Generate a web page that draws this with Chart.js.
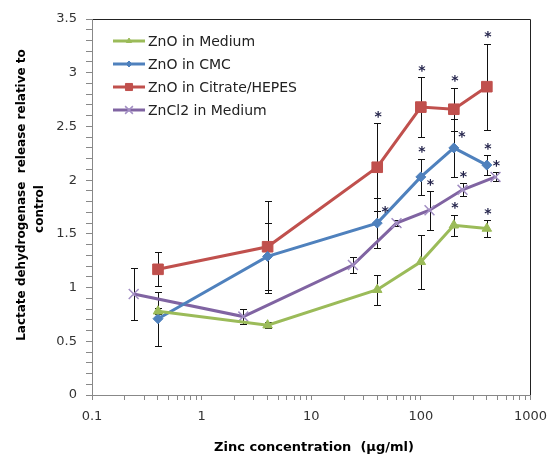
<!DOCTYPE html>
<html>
<head>
<meta charset="utf-8">
<script src="https://cdn.jsdelivr.net/npm/chart.js@4/dist/chart.umd.min.js"></script>
<style>
  html, body { margin: 0; padding: 0; background: #fff; }
  #ldhChart { display: block; }
</style>
</head>
<body>
<canvas id="ldhChart" width="556" height="457"></canvas>
<script>
// LDH release vs zinc concentration
const concZnO = [0.4, 4, 40, 100, 200, 400];            // µg/ml
const concZnCl2 = [0.24, 2.4, 24, 60, 120, 240, 480];   // µg/ml

const znoMedium = [0.78, 0.65, 0.98, 1.24, 1.58, 1.55];
const znoMediumErr = [0.03, 0.03, 0.14, 0.25, 0.10, 0.075];
const znoMediumSig = [0, 0, 0, 0, 1, 1];

const znoCmc = [0.71, 1.29, 1.60, 2.03, 2.30, 2.14];
const znoCmcErr = [0.25, 0.31, 0.235, 0.17, 0.27, 0.09];
const znoCmcSig = [0, 0, 2, 1, 2, 1];   // 1 = star over bar, 2 = star next to point

const znoCitrate = [1.17, 1.38, 2.12, 2.68, 2.66, 2.87];
const znoCitrateErr = [0.16, 0.43, 0.41, 0.28, 0.20, 0.40];
const znoCitrateSig = [0, 0, 1, 1, 1, 1];

const zncl2Medium = [0.94, 0.73, 1.21, 1.60, 1.72, 1.91, 2.03];
const zncl2MediumErr = [0.245, 0.07, 0.075, 0.03, 0.18, 0.062, 0.042];
const zncl2MediumSig = [0, 0, 0, 0, 1, 1, 1];

const xTickLabels = ['0.1', '1', '10', '100', '1000'];
const yTickLabels = ['0', '0.5', '1', '1.5', '2', '2.5', '3', '3.5'];

const FONT = "'DejaVu Sans', sans-serif";

function pts(xs, ys) {
    return xs.map((x, i) => ({ x: x, y: ys[i] }));
}

// black error bars + significance stars
const errorBars = {
    id: 'errorBars',
    beforeDatasetsDraw(chart) {
        const ctx = chart.ctx, sx = chart.scales.x, sy = chart.scales.y;
        ctx.save();
        ctx.strokeStyle = '#111';
        ctx.lineWidth = 1;
        chart.data.datasets.forEach(ds => {
            ds.data.forEach((p, i) => {
                const e = ds.errors[i];
                const px = Math.round(sx.getPixelForValue(p.x)) + 0.5;
                const top = Math.round(sy.getPixelForValue(p.y + e)) + 0.5;
                const bot = Math.round(sy.getPixelForValue(p.y - e)) + 0.5;
                ctx.beginPath();
                ctx.moveTo(px, top); ctx.lineTo(px, bot);
                ctx.moveTo(px - 3.5, top); ctx.lineTo(px + 3.5, top);
                ctx.moveTo(px - 3.5, bot); ctx.lineTo(px + 3.5, bot);
                ctx.stroke();
            });
        });
        ctx.restore();
    },
    afterDatasetsDraw(chart) {
        const ctx = chart.ctx, sx = chart.scales.x, sy = chart.scales.y;
        ctx.save();
        ctx.fillStyle = '#22224a';
        ctx.font = 'bold 14px ' + FONT;
        ctx.textAlign = 'center';
        ctx.textBaseline = 'middle';
        chart.data.datasets.forEach(ds => {
            ds.data.forEach((p, i) => {
                const s = ds.sig[i];
                if (!s) return;
                const px = sx.getPixelForValue(p.x);
                if (s === 1) {
                    ctx.fillText('*', px + 1, sy.getPixelForValue(p.y + ds.errors[i]) - 6);
                } else {
                    ctx.fillText('*', px + 8, sy.getPixelForValue(p.y) - 11);
                }
            });
        });
        ctx.restore();
    }
};

// plot frame, legend and axis titles
const decorations = {
    id: 'decorations',
    beforeDraw(chart) {
        const ctx = chart.ctx, a = chart.chartArea;
        ctx.save();
        ctx.fillStyle = '#fff';
        ctx.fillRect(0, 0, chart.width, chart.height);
        ctx.strokeStyle = '#222';
        ctx.lineWidth = 1;
        ctx.beginPath();
        ctx.moveTo(a.left, Math.round(a.top) + 0.5);
        ctx.lineTo(Math.round(a.right) + 0.5, Math.round(a.top) + 0.5);
        ctx.lineTo(Math.round(a.right) + 0.5, a.bottom);
        ctx.stroke();
        ctx.restore();
    },
    afterDraw(chart) {
        const ctx = chart.ctx;
        ctx.save();
        // legend
        chart.data.datasets.forEach((ds, i) => {
            const y = 41 + i * 23;
            ctx.strokeStyle = ds.borderColor;
            ctx.lineWidth = 3;
            ctx.beginPath();
            ctx.moveTo(113, y); ctx.lineTo(145, y);
            ctx.stroke();
            ctx.fillStyle = ds.pointBackgroundColor;
            ctx.strokeStyle = ds.pointBorderColor;
            ctx.lineWidth = ds.pointBorderWidth;
            Chart.helpers.drawPoint(ctx, {
                pointStyle: ds.pointStyle,
                radius: ds.legendRadius,
                rotation: 0,
                borderWidth: ds.pointBorderWidth
            }, 129, y);
            ctx.fillStyle = '#222';
            ctx.font = '14px ' + FONT;
            ctx.textAlign = 'left';
            ctx.textBaseline = 'middle';
            ctx.fillText(ds.label, 148, y + 1);
        });
        // axis titles
        ctx.fillStyle = '#000';
        ctx.font = 'bold 13px ' + FONT;
        ctx.textAlign = 'center';
        ctx.textBaseline = 'middle';
        ctx.fillText('Zinc concentration  (\u00b5g/ml)', 314, 448);
        ctx.font = 'bold 12px ' + FONT;
        ctx.translate(22, 195);
        ctx.rotate(-Math.PI / 2);
        ctx.fillText('Lactate dehydrogenase  release relative to', 0, 0);
        ctx.fillText('control', -14, 18);
        ctx.restore();
    }
};

const ctx = document.getElementById('ldhChart').getContext('2d');
new Chart(ctx, {
    type: 'line',
    data: {
        datasets: [
            {
                label: 'ZnO in Medium', data: pts(concZnO, znoMedium),
                errors: znoMediumErr, sig: znoMediumSig,
                borderColor: '#9bbb59', pointBackgroundColor: '#9bbb59', pointBorderColor: '#9bbb59',
                pointStyle: 'triangle', pointRadius: 5.5, legendRadius: 3, pointBorderWidth: 1
            },
            {
                label: 'ZnO in CMC', data: pts(concZnO, znoCmc),
                errors: znoCmcErr, sig: znoCmcSig,
                borderColor: '#4f81bd', pointBackgroundColor: '#4f81bd', pointBorderColor: '#4f81bd',
                pointStyle: 'rectRot', pointRadius: 5, legendRadius: 3, pointBorderWidth: 1
            },
            {
                label: 'ZnO in Citrate/HEPES', data: pts(concZnO, znoCitrate),
                errors: znoCitrateErr, sig: znoCitrateSig,
                borderColor: '#c0504d', pointBackgroundColor: '#c0504d', pointBorderColor: '#c0504d',
                pointStyle: 'rect', pointRadius: 7.5, legendRadius: 5, pointBorderWidth: 1
            },
            {
                label: 'ZnCl2 in Medium', data: pts(concZnCl2, zncl2Medium),
                errors: zncl2MediumErr, sig: zncl2MediumSig,
                borderColor: '#8064a2', pointBackgroundColor: '#a38fc4', pointBorderColor: '#a38fc4',
                pointStyle: 'crossRot', pointRadius: 7, legendRadius: 5.5, pointBorderWidth: 1.5
            }
        ]
    },
    options: {
        responsive: false,
        animation: false,
        events: [],
        layout: { padding: { left: 0, top: 19, right: 19, bottom: 0 } },
        elements: {
            line: { borderWidth: 3, tension: 0 },
            point: { hoverRadius: 0 }
        },
        plugins: {
            legend: { display: false },
            tooltip: { enabled: false }
        },
        scales: {
            x: {
                type: 'logarithmic',
                min: 0.1, max: 1000,
                afterBuildTicks(scale) {
                    const ticks = [];
                    for (let d = 0; d < xTickLabels.length; d++) {
                        const base = Number(xTickLabels[d]);
                        ticks.push({ value: base });
                        if (d < xTickLabels.length - 1) {
                            for (let k = 2; k <= 9; k++) ticks.push({ value: +(base * k).toPrecision(6) });
                        }
                    }
                    scale.ticks = ticks;
                },
                afterFit(scale) { scale.height = 62; },
                border: { color: '#888', width: 1 },
                grid: { drawOnChartArea: false, tickLength: 5, color: '#888' },
                ticks: {
                    autoSkip: false, maxRotation: 0, padding: 9,
                    color: '#333', font: { family: FONT, size: 13 },
                    callback: v => {
                        const s = String(+v.toPrecision(6));
                        return xTickLabels.includes(s) ? s : '';
                    }
                }
            },
            y: {
                min: 0, max: 3.5,
                afterBuildTicks(scale) {
                    const ticks = [];
                    for (let i = 0; i <= 35; i++) ticks.push({ value: i / 10 });
                    scale.ticks = ticks;
                },
                afterFit(scale) { scale.width = 92; },
                border: { color: '#888', width: 1 },
                grid: { drawOnChartArea: false, tickLength: 6, color: '#888' },
                ticks: {
                    autoSkip: false, padding: 9,
                    color: '#333', font: { family: FONT, size: 13 },
                    callback: v => {
                        const s = String(+v.toFixed(1));
                        return yTickLabels.includes(s) ? s : '';
                    }
                }
            }
        }
    },
    plugins: [errorBars, decorations]
});
</script>
</body>
</html>
